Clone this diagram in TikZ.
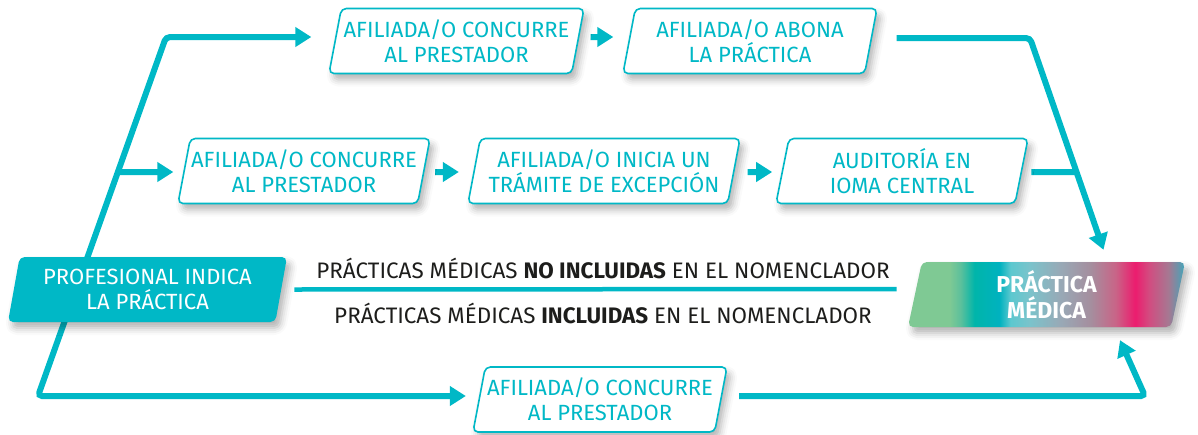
\documentclass[tikz,border=0pt]{standalone}
\usepackage{fontspec}
\setmainfont{Fira Sans}
\usetikzlibrary{shapes.geometric, arrows.meta, shadows.blur, calc}
\definecolor{teal}{RGB}{0,184,198}
\definecolor{ink}{RGB}{29,29,27}
\definecolor{pmA}{RGB}{127,201,148}
\definecolor{pmA2}{RGB}{92,192,156}
\definecolor{pmB}{RGB}{0,181,170}
\definecolor{pmC}{RGB}{0,178,191}
\definecolor{pmD}{RGB}{92,200,207}
\definecolor{pmD2}{RGB}{123,195,203}
\definecolor{pmE}{RGB}{152,169,182}
\definecolor{pmF}{RGB}{165,142,158}
\definecolor{pmG}{RGB}{201,100,135}
\definecolor{pmH}{RGB}{236,28,110}
\definecolor{pmH2}{RGB}{210,76,128}
\definecolor{pmI}{RGB}{166,120,146}
\definecolor{pmJ}{RGB}{63,167,187}
\pgfdeclarehorizontalshading{pmshade}{100bp}{%
  color(0bp)=(pmA); color(25bp)=(pmA); color(32.5bp)=(pmA); color(34.5bp)=(pmA2);
  color(37bp)=(pmB); color(41.5bp)=(pmC); color(43.5bp)=(pmD); color(47bp)=(pmD2);
  color(52.5bp)=(pmE); color(58bp)=(pmF); color(62.5bp)=(pmG); color(66bp)=(pmH);
  color(68.5bp)=(pmH2); color(72bp)=(pmI); color(75bp)=(pmJ); color(100bp)=(pmJ)}
\pgfdeclarelayer{bg}
\pgfsetlayers{bg,main}
\tikzset{
  pshape/.style={trapezium, trapezium left angle=74, trapezium right angle=106,
    trapezium stretches body, rounded corners=5pt, align=center, inner sep=0pt,
    minimum height=65pt, font=\fontsize{22}{25}\selectfont,
    blur shadow={shadow xshift=4pt, shadow yshift=-6pt, shadow blur radius=7pt, shadow opacity=30}},
  flowbox/.style={pshape, draw=teal, line width=1.6pt, fill=white, text=teal},
  startbox/.style={pshape, fill=teal, text=white},
  endbox/.style={pshape, shading=pmshade, text=white, font=\fontsize{23}{26}\selectfont\bfseries},
  conn/.style={draw=teal, line width=6pt, rounded corners=4pt},
  arr/.style={-{Triangle[length=16pt,width=19pt]}},
  lbl/.style={text=ink, font=\fontsize{22.4}{25}\selectfont, inner sep=0pt}
}
\begin{document}
\begin{tikzpicture}[x=1pt,y=-1pt]
\useasboundingbox (0,0) rectangle (1198,434);

\node[startbox, minimum width=279pt] (prof) at (147.5,289.5) {PROFESIONAL INDICA\\LA PRÁCTICA};
\node[flowbox, minimum width=255pt] (a1) at (456.5,41) {AFILIADA/O CONCURRE\\AL PRESTADOR};
\node[flowbox, minimum width=254pt] (a2) at (750,41) {AFILIADA/O ABONA\\LA PRÁCTICA};
\node[flowbox, minimum width=252pt] (b1) at (304,171) {AFILIADA/O CONCURRE\\AL PRESTADOR};
\node[flowbox, minimum width=272pt] (b2) at (604,171) {AFILIADA/O INICIA UN\\TRÁMITE DE EXCEPCIÓN};
\node[flowbox, minimum width=252pt] (b3) at (902,171) {AUDITORÍA EN\\IOMA CENTRAL};
\node[flowbox, minimum width=254pt] (c1) at (600,399.5) {AFILIADA/O CONCURRE\\AL PRESTADOR};
\node[endbox, minimum width=277pt] (pm) at (1046.5,294.5) {PRÁCTICA\\MÉDICA};

\node[lbl] (noinc) at (603,268) {PRÁCTICAS MÉDICAS \textbf{NO INCLUIDAS} EN EL NOMENCLADOR};
\node[lbl] (inc) at (603,313) {PRÁCTICAS MÉDICAS \textbf{INCLUIDAS} EN EL NOMENCLADOR};

\coordinate (lb) at (38,396);
\coordinate (lt) at (166,37);
\coordinate (jb) at (118,172);
\coordinate (rt) at (1030,38);
\coordinate (jr) at (1077,172);
\coordinate (rb) at (1145,396);

\begin{pgfonlayer}{bg}
\draw[conn, {Triangle[length=16pt,width=19pt]}-{Triangle[length=16pt,width=19pt]}]
  ($(a1.west)+(-23,-4)$) -- (lt) -- (lb) -- ($(c1.west)+(-12.5,-3.5)$);
\draw[conn, arr] (jb) -- ($(b1.west)+(-10,1)$);
\draw[conn, arr] ($(a1.east)+(12,-4)$) -- ($(a2.west)+(-15,-4)$);
\draw[conn, arr] ($(a2.east)+(25,-3)$) -- (rt) -- ($(pm.north)+(57,-12)$);
\draw[conn, arr] ($(b1.east)+(10.5,1)$) -- ($(b2.west)+(-14.5,1)$);
\draw[conn, arr] ($(b2.east)+(13,1)$) -- ($(b3.west)+(-9.5,1)$);
\draw[conn] ($(b3.east)+(9,1)$) -- (jr);
\draw[teal, line width=4.5pt] ($(prof.east)+(13,0)$) -- ($(pm.west)+(-18,-5.5)$);
\draw[conn, arr] ($(c1.east)+(17.5,-3.5)$) -- (rb) -- ($(pm.south)+(73.5,13)$);
\end{pgfonlayer}
\end{tikzpicture}
\end{document}
